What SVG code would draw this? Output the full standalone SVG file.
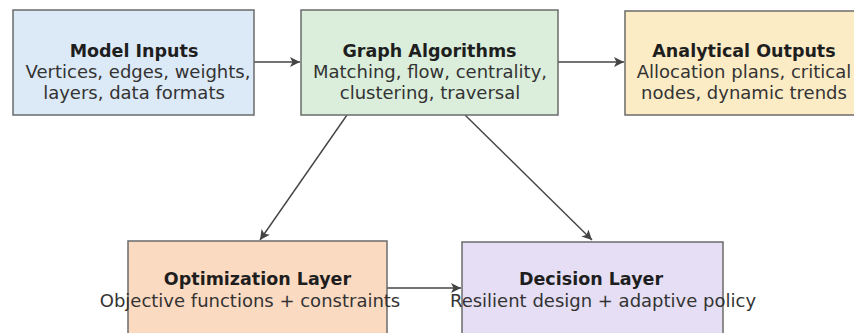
<svg xmlns="http://www.w3.org/2000/svg" width="854" height="333" viewBox="0 0 854 333">
  <defs>
    <marker id="arrow" viewBox="0 0 10 10" refX="10" refY="5" markerWidth="10" markerHeight="10" markerUnits="userSpaceOnUse" orient="auto">
      <path d="M0,0 L10,5 L0,10 L2.5,5 Z" fill="#444"/>
    </marker>
    <style>
      .box { stroke: #6b6b6b; stroke-width: 1.5; }
      .title { font-family: "DejaVu Sans", sans-serif; font-weight: bold; font-size: 17.5px; fill: #1e1e1e; text-anchor: middle; }
      .body { font-family: "DejaVu Sans", sans-serif; font-size: 18px; fill: #333; text-anchor: middle; }
      .edge { stroke: #444; stroke-width: 1.4; fill: none; marker-end: url(#arrow); }
    </style>
  </defs>
  <rect width="854" height="333" fill="#ffffff"/>

  <g id="connectors">
    <line class="edge" x1="254" y1="62" x2="300" y2="62"/>
    <line class="edge" x1="558" y1="62" x2="624" y2="62"/>
    <line class="edge" x1="347" y1="115" x2="260" y2="240"/>
    <line class="edge" x1="465" y1="115" x2="592" y2="240"/>
    <line class="edge" x1="387" y1="288" x2="461" y2="288"/>
  </g>

  <g id="model-inputs">
    <rect class="box" x="13" y="10" width="241" height="105" fill="#dce9f6"/>
    <text class="title" x="134" y="57">Model Inputs</text>
    <text class="body" x="138" y="78">Vertices, edges, weights,</text>
    <text class="body" x="134" y="99">layers, data formats</text>
  </g>

  <g id="graph-algorithms">
    <rect class="box" x="301" y="10" width="257" height="105" fill="#daeedb"/>
    <text class="title" x="429.5" y="57">Graph Algorithms</text>
    <text class="body" x="430" y="78">Matching, flow, centrality,</text>
    <text class="body" x="430" y="99">clustering, traversal</text>
  </g>

  <g id="analytical-outputs">
    <rect class="box" x="625" y="11" width="238" height="104" fill="#fcecc6"/>
    <text class="title" x="744" y="57">Analytical Outputs</text>
    <text class="body" x="744" y="78">Allocation plans, critical</text>
    <text class="body" x="744" y="99">nodes, dynamic trends</text>
  </g>

  <g id="optimization-layer">
    <rect class="box" x="128" y="241" width="259" height="100" fill="#fbdac2"/>
    <text class="title" x="257.5" y="285">Optimization Layer</text>
    <text class="body" x="250" y="307">Objective functions + constraints</text>
  </g>

  <g id="decision-layer">
    <rect class="box" x="462" y="242" width="261" height="100" fill="#e5def4"/>
    <text class="title" x="591" y="285">Decision Layer</text>
    <text class="body" x="603" y="307">Resilient design + adaptive policy</text>
  </g>
</svg>
